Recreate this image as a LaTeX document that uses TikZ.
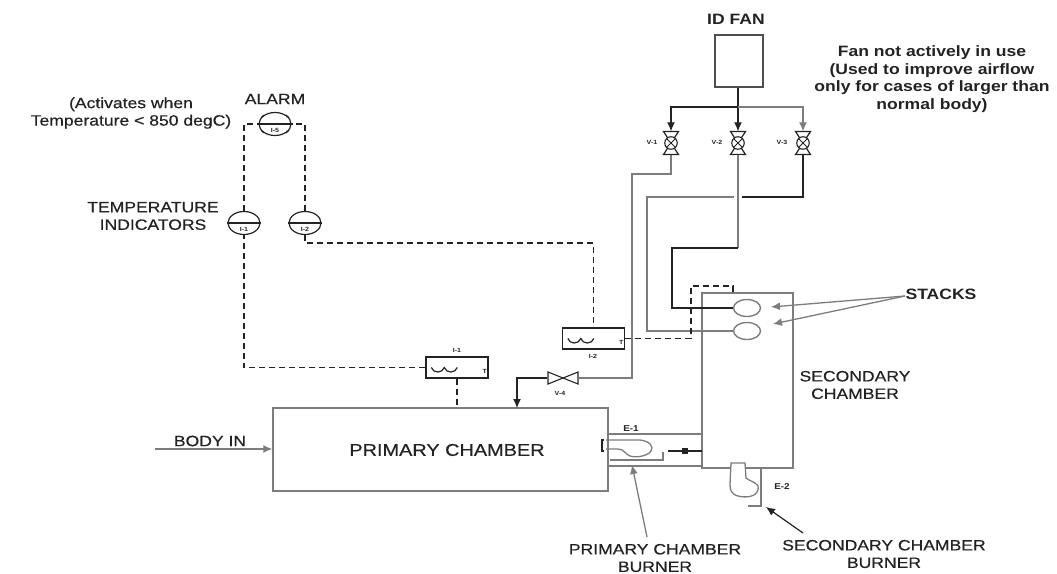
\documentclass[tikz,border=0pt]{standalone}
\usepackage{fontspec}
\setmainfont[FakeStretch=1.17]{Liberation Sans}
\newfontfamily\heavyfont[FakeStretch=1.17,FakeBold=0.5]{Liberation Sans}
\usetikzlibrary{arrows.meta, shapes.geometric, positioning}
\definecolor{inkdark}{RGB}{35,35,35}
\definecolor{pipegray}{RGB}{125,125,125}
\begin{document}
\begin{tikzpicture}[
  x=1pt, y=-1pt,
  vessel/.style={draw=pipegray, line width=1.4pt, inner sep=0pt},
  fanbox/.style={draw=inkdark!80, line width=1.3pt, inner sep=0pt, minimum width=48pt, minimum height=52pt},
  instbox/.style={draw=inkdark, line width=1.4pt, inner sep=0pt, minimum width=62pt, minimum height=21pt},
  indicator/.style={draw=inkdark, ellipse, line width=1.2pt, inner sep=0pt, minimum width=32pt, minimum height=23pt},
  stackport/.style={draw=pipegray, ellipse, line width=1.4pt, inner sep=0pt, minimum width=27pt, minimum height=17pt},
  valvebody/.style={circle, inner sep=0pt, minimum size=23pt},
  label/.style={font=\heavyfont\fontsize{15}{17.5}\selectfont, text=inkdark, align=center, inner sep=0pt},
  notelabel/.style={font=\fontsize{15}{17.5}\selectfont\bfseries, text=inkdark, align=center, inner sep=0pt},
  tinylabel/.style={font=\fontsize{6}{7}\selectfont\bfseries, text=inkdark, inner sep=0pt},
  smalllabel/.style={font=\fontsize{8.5}{9}\selectfont\bfseries, text=inkdark, inner sep=0pt},
  pipe/.style={draw=inkdark, line width=1.2pt},
  greypipe/.style={draw=pipegray, line width=1.3pt},
  signal/.style={draw=inkdark, line width=1.3pt, dash pattern=on 6pt off 4pt},
  arrow/.style={-{Latex[length=9pt,width=8pt]}},
]
\useasboundingbox (0,0) rectangle (1057,573);

% Vessels
\node[vessel, minimum width=335pt, minimum height=83pt] (primary) at (440.5,449.5) {};
\node[vessel, minimum width=91pt, minimum height=175pt] (secondary) at (747.5,380.5) {};
\node[fanbox] (fan) at (739,61) {};
\node[stackport] (stack1) at (747,308) {};
\node[stackport] (stack2) at (747,331) {};

% Labels
\node[notelabel] (fanlab) at (736,19) {ID FAN};
\node[notelabel] (note) at (932,79) {Fan not actively in use\\(Used to improve airflow\\only for cases of larger than\\normal body)};
\node[label] (alarmlab) at (275,99) {ALARM};
\node[label] (activates) at (131,113) {(Activates when\\Temperature < 850 degC)};
\node[label] (templab) at (153,216) {TEMPERATURE\\INDICATORS};
\node[label] (bodyin) at (210,441) {BODY IN};
\node[label, font=\heavyfont\fontsize{17}{17.5}\selectfont] (primlab) at (447,450) {PRIMARY CHAMBER};
\node[label] (seclab) at (855,385) {SECONDARY\\CHAMBER};
\node[notelabel] (stacks) at (941,294) {STACKS};
\node[label] (primburn) at (655,558) {PRIMARY CHAMBER\\BURNER};
\node[label] (secburn) at (884,554) {SECONDARY CHAMBER\\BURNER};
\node[smalllabel] (e1) at (631,429) {E-1};
\node[smalllabel] (e2) at (782,487) {E-2};

% Indicators
\foreach \ind/\ix/\iy/\itext in {ti1/244/223/I-1, ti2/305/223/I-2, alarm/275/124/I-5}{
  \node[indicator] (\ind) at (\ix,\iy) {};
  \draw[inkdark, line width=1.2pt] (\ind.west) -- (\ind.east);
  \node[tinylabel] (\ind lab) at (\ix,\iy+6) {\itext};
}
% Alarm ticks
\foreach \ang in {40,140,220,320}{
  \draw[inkdark, line width=0.9pt] (alarm.\ang) -- ++(\ang:4);
}

% Temperature boxes
\node[instbox] (box1) at (457,367.5) {};
\node[instbox] (box2) at (593.5,338.5) {};
\node[tinylabel] (box1lab) at (457,350) {I-1};
\node[tinylabel] (box2lab) at (593,356) {I-2};
\foreach \bname in {box1, box2}{
  \draw[inkdark, line width=1.2pt] (\bname.west) ++(6,0) .. controls +(2,6) and +(-2,6) .. ++(13,0) .. controls +(2,6) and +(-2,6) .. ++(13,0);
  \node[tinylabel] at ([xshift=-4pt,yshift=-4pt]\bname.east) {T};
}

% Valves
\foreach \valve/\vx/\vtext/\lx in {v1/671/V-1/652, v2/738/V-2/717, v3/803/V-3/782}{
  \node[valvebody] (\valve) at (\vx,143) {};
  \draw[inkdark, line width=1.2pt] (\valve.center) -- ++(-7.5,-11.5) -- ++(15,0) -- cycle;
  \draw[inkdark, line width=1.2pt] (\valve.center) -- ++(-7.5,11.5) -- ++(15,0) -- cycle;
  \node[draw=inkdark, circle, fill=white, line width=1.1pt, minimum size=12.5pt, inner sep=0pt] (\valve c) at (\vx,143) {};
  \draw[inkdark, line width=0.9pt] (\valve c.45) -- (\valve c.225) (\valve c.135) -- (\valve c.315);
  \node[tinylabel] (\valve lab) at (\lx,142) {\vtext};
}
\node[valvebody, minimum size=31pt] (v4) at (563,378) {};
\draw[inkdark, line width=1.1pt] (v4.center) -- (548,372) -- (548,384) -- cycle;
\draw[inkdark, line width=1.1pt] (v4.center) -- (578,372) -- (578,384) -- cycle;
\node[tinylabel] (v4lab) at (560,393) {V-4};

% Fan header
\coordinate (header) at (738,107);
\draw[pipe] (fan.south -| header) -- (header);
\draw[pipe, arrow] (header) -- (v2.north);
\draw[pipe, arrow] (header) -| (v1.north);
\draw[greypipe, arrow] (header) -| (v3.north);

% Valve outlets
\coordinate (pcin) at (517,408);
\coordinate (v2bend) at (738,248);
\draw[pipe] (v3.south) |- (738,197);
\draw[greypipe] (738,197) -| (647,331) -- (stack2.west);
\draw[greypipe, line width=1.1pt, preaction={draw=white, line width=8pt}] (v2.south) -- (v2bend);
\draw[pipe] (v2bend) -| (672,308) -- (stack1.west);
\draw[greypipe] (v1.south) |- (632,174) |- (v4.east);
\draw[pipe, arrow] (v4.west) -| (pcin);

% Signal lines
\draw[signal] (box1.south) -- (box1.south |- primary.north);
\draw[signal] (box1.west) -| (ti1.south);
\draw[signal] (ti1.north) |- (alarm.west);
\draw[signal] (ti2.north) |- (alarm.east);
\draw[signal] (ti2.south) -- ++(0,8) -| (box2.north);
\coordinate (sectop) at (733,293);
\draw[signal] (box2.east) -| (691,286) -| (sectop);

% Body feed and stack pointers
\coordinate (feed) at (155,449);
\draw[greypipe, arrow] (feed) -- (primary.west |- feed);
\coordinate (stacktip1) at (771,307);
\coordinate (stacktip2) at (773,324);
\coordinate (stackfoot) at (905,296);
\draw[greypipe, arrow] (stackfoot) -- (stacktip1);
\draw[greypipe, arrow] (stackfoot) -- (stacktip2);

% Primary burner
\draw[greypipe] (606,440) -- (640,440) .. controls (650,441) and (654,447) .. (651,451) .. controls (648,456) and (636,458) .. (630,456) .. controls (625,454) and (624,449) .. (618,449) -- (606,449);
\draw[inkdark, line width=1.6pt] (604,440) -- (602,440) -- (602,451) -- (604,451);
\coordinate (e1a) at (608,434);
\coordinate (e1b) at (702,434);
\coordinate (e1c) at (608,466);
\coordinate (e1d) at (702,466);
\coordinate (e1e) at (610,460);
\draw[greypipe] (e1a) -- (e1b);
\draw[greypipe] (e1c) -- (e1d);
\draw[greypipe] (e1e) -| (663,452);
\coordinate (e1f) at (668,451);
\coordinate (e1g) at (702,451);
\draw[pipe] (e1f) -- (e1g);
\node[fill=inkdark, minimum width=6pt, minimum height=6pt, inner sep=0pt] (e1mark) at (685,451) {};

% Secondary burner
\draw[greypipe, fill=white] (731,463) -- (745,463) -- (746,478) .. controls (750,482) and (760,482) .. (758,490) .. controls (756,497) and (746,498) .. (738,496) .. controls (731,494) and (730,490) .. (730,484) -- cycle;
\coordinate (e2a) at (761,468);
\coordinate (e2b) at (748,506);
\draw[greypipe] (e2a) |- (e2b);

% Burner pointers
\coordinate (primtip) at (632,465);
\coordinate (primtail) at (647,537);
\coordinate (sectip) at (766,507);
\coordinate (sectail) at (803,533);
\draw[greypipe, arrow] (primtail) -- (primtip);
\draw[pipe, arrow] (sectail) -- (sectip);
\end{tikzpicture}
\end{document}
